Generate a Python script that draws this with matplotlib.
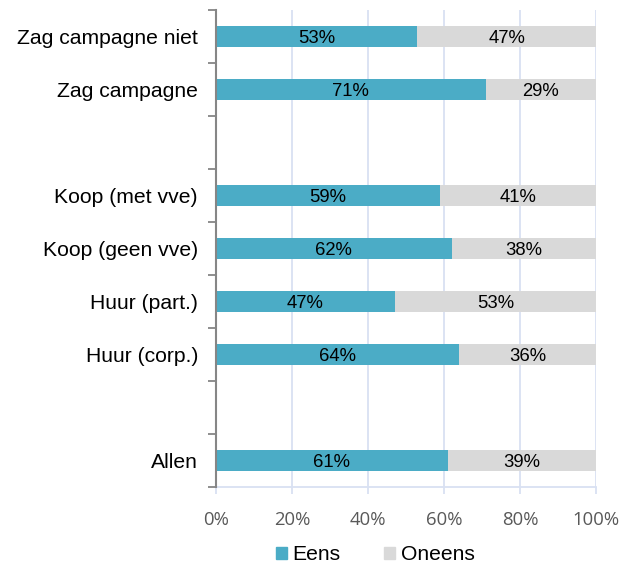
import matplotlib
matplotlib.use("Agg")
import matplotlib.pyplot as plt
import numpy as np
from matplotlib.patches import Patch

categories = ["Allen", "", "Huur (corp.)", "Huur (part.)", "Koop (geen vve)",
              "Koop (met vve)", "", "Zag campagne", "Zag campagne niet"]
eens = [61, None, 64, 47, 62, 59, None, 71, 53]
oneens = [39, None, 36, 53, 38, 41, None, 29, 47]
xticks = [0, 20, 40, 60, 80, 100]
xticklabels = ["0%", "20%", "40%", "60%", "80%", "100%"]

c_eens = "#4BACC6"
c_oneens = "#D9D9D9"
grid_c = "#D9E1F2"

fig = plt.figure(figsize=(6.35, 5.65), dpi=100)
ax = fig.add_axes([216/635, 1-487/565, (596-216)/635, (487-10)/565])

y = np.arange(len(categories))
for i, (e, o) in enumerate(zip(eens, oneens)):
    if e is None:
        continue
    ax.barh(i, e, height=0.4, color=c_eens, zorder=3)
    ax.barh(i, o, left=e, height=0.4, color=c_oneens, zorder=3)
    ax.text(e/2, i, f"{e}%", ha="center", va="center_baseline", fontsize=13.3,
            family="Liberation Sans", color="#000000", zorder=4)
    ax.text(e + o/2, i, f"{o}%", ha="center", va="center_baseline", fontsize=13.3,
            family="Liberation Sans", color="#000000", zorder=4)

ax.set_xlim(0, 100)
ax.set_ylim(-0.5, len(categories)-0.5)
ax.set_xticks(xticks)
ax.set_xticklabels(xticklabels, fontsize=13.3, family="Open Sans", color="#595959")
ax.set_yticks(y)
ax.set_yticklabels(categories, fontsize=15.2, family="Liberation Sans", color="#000000")
ax.tick_params(axis="y", length=0, pad=13)
ax.set_yticks(np.arange(-0.5, len(categories), 1.0), minor=True)
ax.tick_params(axis="y", which="minor", length=6, color="#868686", width=1.3)
ax.tick_params(axis="x", length=5, color=grid_c, width=1.3, pad=12)
ax.xaxis.grid(True, color=grid_c, linewidth=1.3, zorder=0)
ax.set_axisbelow(True)
for s in ["top", "right"]:
    ax.spines[s].set_visible(False)
ax.spines["bottom"].set_color(grid_c)
ax.spines["bottom"].set_linewidth(1.3)
ax.spines["left"].set_color("#868686")
ax.spines["left"].set_linewidth(1.5)
ax.spines["left"].set_zorder(5)

handles = [Patch(color=c_eens, label="Eens"), Patch(color=c_oneens, label="Oneens")]
fig.legend(handles=handles, loc="center", bbox_to_anchor=(375/635, 1-555/565), ncol=2,
           frameon=False, prop={"family": "Liberation Sans", "size": 15.2},
           handlelength=0.52, handleheight=0.52, handletextpad=0.25, columnspacing=2.1,
           borderpad=0, borderaxespad=0)

fig.savefig("out.png", dpi=100)
